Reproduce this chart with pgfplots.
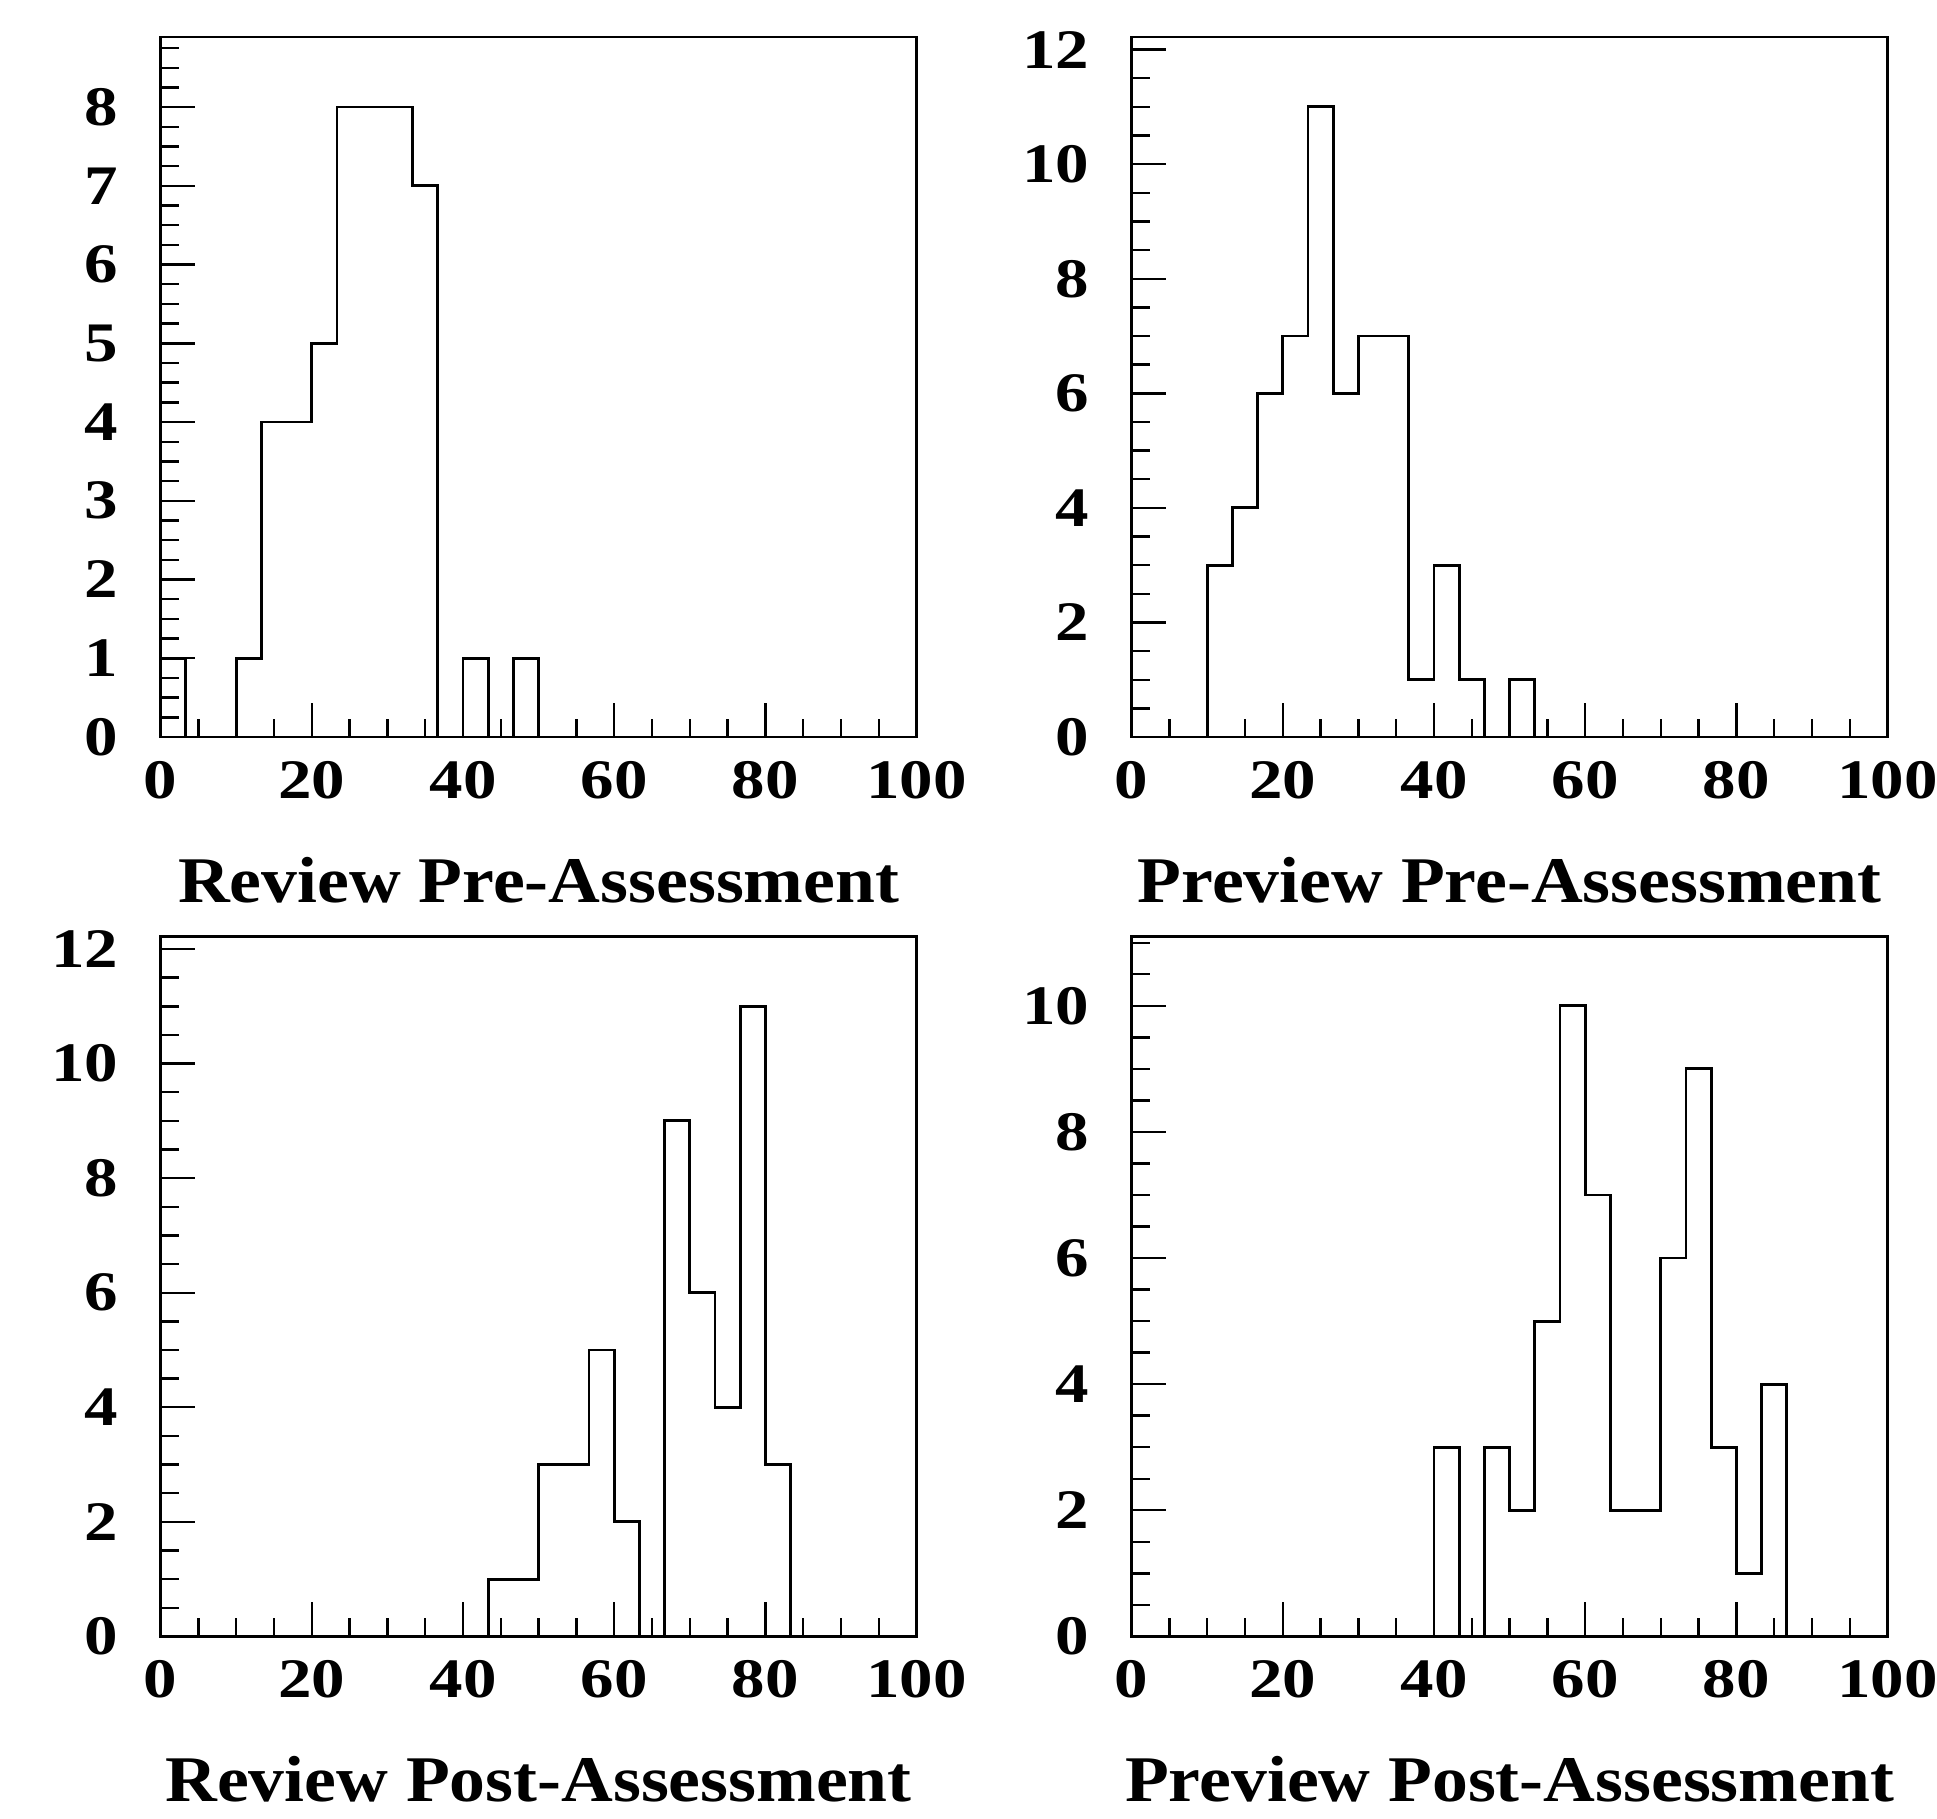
\documentclass[border=0pt]{standalone}
\usepackage{fontspec}
\setmainfont{Liberation Serif}
\newfontfamily\rootfont[FakeStretch=1.1]{Liberation Serif}
\newfontfamily\tickfont[FakeStretch=1.2]{Liberation Serif}
\usepackage{pgfplots}
\usepackage{pgfplotstable}
\pgfplotsset{compat=1.18}

% bin left edge, count (30 bins of width 10/3); last row closes at 100
\pgfplotstableread{
x y
0 1
3.3333 0
6.6667 0
10 1
13.3333 4
16.6667 4
20 5
23.3333 8
26.6667 8
30 8
33.3333 7
36.6667 0
40 1
43.3333 0
46.6667 1
50 0
100 0
}\reviewpre
\pgfplotstableread{
x y
0 0
10 3
13.3333 4
16.6667 6
20 7
23.3333 11
26.6667 6
30 7
33.3333 7
36.6667 1
40 3
43.3333 1
46.6667 0
50 1
53.3333 0
100 0
}\previewpre
\pgfplotstableread{
x y
0 0
43.3333 1
46.6667 1
50 3
53.3333 3
56.6667 5
60 2
63.3333 0
66.6667 9
70 6
73.3333 4
76.6667 11
80 3
83.3333 0
100 0
}\reviewpost
\pgfplotstableread{
x y
0 0
40 3
43.3333 0
46.6667 3
50 2
53.3333 5
56.6667 10
60 7
63.3333 2
66.6667 2
70 6
73.3333 9
76.6667 3
80 1
83.3333 4
86.6667 0
100 0
}\previewpost

\pgfplotsset{
  roothist/.style={
    scale only axis, width=378bp, height=350bp,
    xmin=0, xmax=100, ymin=0,
    axis line style={line width=1.2bp},
    tick align=inside, xtick pos=left, ytick pos=left,
    major tick length=17bp, minor tick length=9bp,
    every tick/.style={line width=1.2bp, black},
    xtick={0,20,...,100}, minor xtick={5,10,...,95},
    /pgf/number format/assume math mode=true,
    tick label style={font=\tickfont\bfseries\fontsize{28}{28}\selectfont},
    xticklabel style={inner sep=0pt, anchor=north, yshift=-12bp},
    yticklabel style={inner sep=0pt, anchor=east, xshift=-21bp},
    xlabel style={font=\rootfont\bfseries\fontsize{32.7}{32.7}\selectfont,
      at={(axis description cs:0.5,0)}, anchor=base, yshift=-82.7bp},
    anchor=north west,
  },
  histline/.style={const plot, black, line width=1.4bp, mark=none},
}

\begin{document}
\begin{tikzpicture}
\useasboundingbox (0,0) rectangle (968.5bp,-909.5bp);

\begin{axis}[roothist, at={(80.3bp,-18.5bp)}, ymax=8.89,
  ytick={0,1,...,8}, minor ytick={0.25,0.5,...,8.8},
  xlabel={Review Pre-Assessment}]
\addplot[histline] table[x=x,y=y] {\reviewpre};
\end{axis}

\begin{axis}[roothist, at={(565.8bp,-18.5bp)}, ymax=12.22,
  ytick={0,2,...,12}, minor ytick={0.5,1,...,12},
  xlabel={Preview Pre-Assessment}]
\addplot[histline] table[x=x,y=y] {\previewpre};
\end{axis}

\begin{axis}[roothist, at={(80.3bp,-468.2bp)}, ymax=12.22,
  ytick={0,2,...,12}, minor ytick={0.5,1,...,12},
  xlabel={Review Post-Assessment}]
\addplot[histline] table[x=x,y=y] {\reviewpost};
\end{axis}

\begin{axis}[roothist, at={(565.8bp,-468.2bp)}, ymax=11.1,
  ytick={0,2,...,10}, minor ytick={0.5,1,...,11},
  xlabel={Preview Post-Assessment}]
\addplot[histline] table[x=x,y=y] {\previewpost};
\end{axis}
\end{tikzpicture}
\end{document}
